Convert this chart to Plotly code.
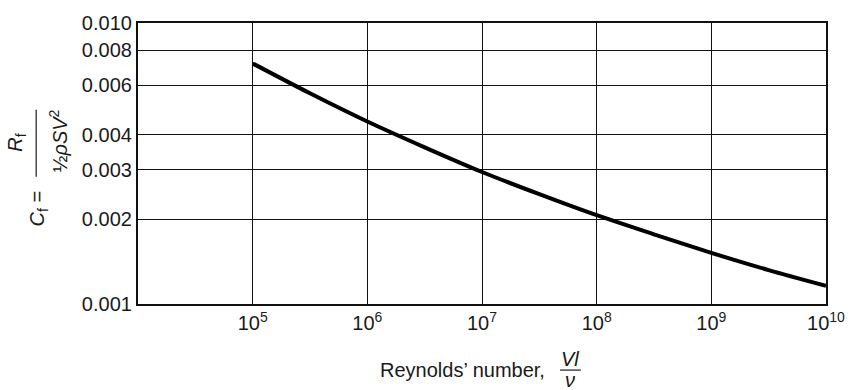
import plotly.graph_objects as go

# Data
reynolds = [1e5, 3.16e5, 1e6, 3.16e6, 1e7, 3.16e7, 1e8, 3.16e8, 1e9, 3.16e9, 1e10]
cf = [0.00718, 0.00562, 0.00446, 0.00361, 0.00295, 0.00246, 0.00207, 0.00177, 0.00152, 0.00132, 0.00116]

x_tickvals = [1e5, 1e6, 1e7, 1e8, 1e9, 1e10]
x_ticktext = ["10<sup>5</sup>", "10<sup>6</sup>", "10<sup>7</sup>", "10<sup>8</sup>", "10<sup>9</sup>", "10<sup>10</sup>"]
y_tickvals = [0.001, 0.002, 0.003, 0.004, 0.006, 0.008, 0.010]
y_ticktext = ["0.001", "0.002", "0.003", "0.004", "0.006", "0.008", "0.010"]

W, H = 857, 390
L, R, T, B = 138, 23, 19, 86
pw, ph = W - L - R, H - T - B

def px(x):
    return (x - L) / pw

def py(y):
    return (H - B - y) / ph

FONT = "Liberation Sans, Arial, sans-serif"
FS = 20

fig = go.Figure()
fig.add_trace(go.Scatter(x=reynolds, y=cf, mode="lines",
                         line=dict(color="black", width=4, shape="spline", smoothing=0.8),
                         showlegend=False, hoverinfo="skip"))

fig.update_layout(
    width=W, height=H,
    margin=dict(l=L, r=R, t=T, b=B),
    paper_bgcolor="white", plot_bgcolor="white",
    font=dict(family=FONT, size=FS, color="#1a1a1a"),
    xaxis=dict(type="log", range=[4, 10], tickvals=x_tickvals, ticktext=x_ticktext,
               showgrid=True, gridcolor="#111", gridwidth=1.2,
               showline=True, linecolor="#111", linewidth=2.2, mirror=True,
               ticks="", zeroline=False, tickfont=dict(family=FONT, size=FS)),
    yaxis=dict(type="log", range=[-3, -2], tickvals=y_tickvals, ticktext=y_ticktext,
               showgrid=True, gridcolor="#111", gridwidth=1.2,
               showline=True, linecolor="#111", linewidth=2.2, mirror=True,
               ticks="", zeroline=False, tickfont=dict(family=FONT, size=FS)),
)

ann = []
# y-axis title: C_f = R_f / (1/2 rho S V^2)
ann.append(dict(text="<i>C</i><sub>f</sub> =", x=px(37), y=py(207), textangle=-90))
ann.append(dict(text="<i>R</i><sub>f</sub>", x=px(15), y=py(140), textangle=-90))
ann.append(dict(text="½<i>ρSV</i><sup>2</sup>", x=px(57), y=py(138), textangle=-90))
# x-axis title: Reynolds' number, Vl/nu
ann.append(dict(text="Reynolds’ number,", x=px(466), y=py(371)))
ann.append(dict(text="<i>Vl</i>", x=px(575), y=py(360)))
ann.append(dict(text="<i>ν</i>", x=px(575), y=py(381)))
for a in ann:
    a.update(xref="paper", yref="paper", showarrow=False, xanchor="center", yanchor="middle",
             font=dict(family=FONT, size=FS, color="#1a1a1a"))
fig.update_layout(annotations=ann)

fig.add_shape(type="line", xref="paper", yref="paper",
              x0=px(35), x1=px(35), y0=py(107), y1=py(175), line=dict(color="#1a1a1a", width=1.2))
fig.add_shape(type="line", xref="paper", yref="paper",
              x0=px(565), x1=px(586), y0=py(371), y1=py(371), line=dict(color="#1a1a1a", width=1.2))

fig.write_html("out.html", config={"displayModeBar": False},
               post_script="document.body.style.margin='0';")
